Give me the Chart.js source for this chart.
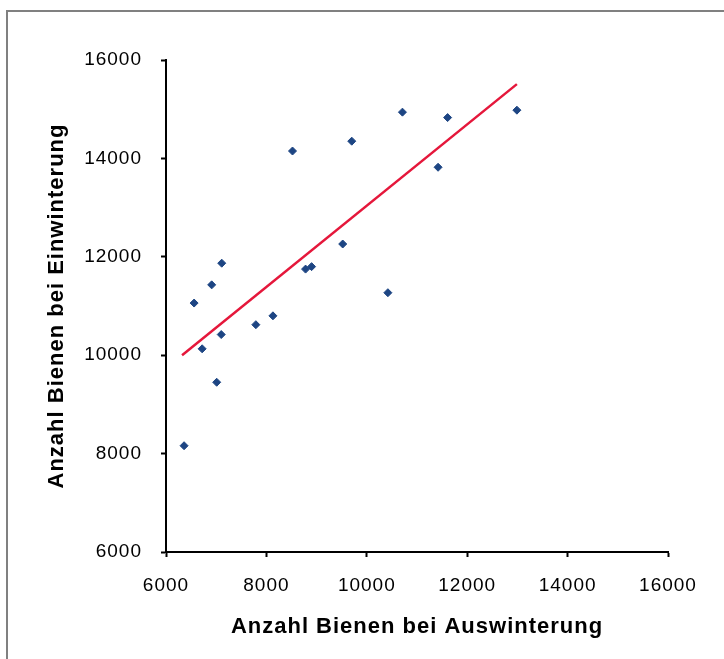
<!DOCTYPE html>
<html lang="de">
<head>
<meta charset="UTF-8">
<title>Bienen Auswinterung / Einwinterung</title>
<script src="https://cdn.jsdelivr.net/npm/chart.js"></script>
<style>
  html, body { margin: 0; padding: 0; background: #fff; }
  #rahmen {
    position: absolute; left: 6px; top: 10px; width: 740px; height: 680px;
    border-top: 2px solid #808080; border-left: 2px solid #808080;
  }
  #wrap { position: absolute; left: 0; top: 0; width: 724px; height: 659px; }
</style>
</head>
<body>
<div id="rahmen"></div>
<div id="wrap"><canvas id="streuChart"></canvas></div>

<script>
  // Völker: Anzahl Bienen bei Auswinterung (x) und Einwinterung (y)
  const auswinterung = [6360, 6560, 6720, 6910, 7010, 7110, 7100, 7790, 8130, 8520,
                        8780, 8900, 9520, 9700, 10420, 10710, 11420, 11610, 12990];
  const einwinterung = [8160, 11060, 10130, 11430, 9450, 11870, 10420, 10620, 10800, 14150,
                        11750, 11800, 12260, 14350, 11270, 14940, 13820, 14830, 14980];

  // lineare Trendlinie (Anfang / Ende)
  const trendX = [6320, 12990];
  const trendY = [10000, 15510];

  const achsenTicks = [6000, 8000, 10000, 12000, 14000, 16000];

  const punkte = auswinterung.map((x, i) => ({ x: x, y: einwinterung[i] }));
  const trend = trendX.map((x, i) => ({ x: x, y: trendY[i] }));

  const schrift = 'Arial, "Liberation Sans", sans-serif';

  // etwas breiter laufende Schrift
  const sperrung = {
    id: 'sperrung',
    beforeUpdate: (chart) => { chart.ctx.letterSpacing = '1px'; },
    beforeLayout: (chart) => { chart.ctx.letterSpacing = '1px'; },
    beforeDraw: (chart) => { chart.ctx.letterSpacing = '1px'; }
  };

  function achse(titel, breite, hoehe, tickPad) {
    return {
      type: 'linear',
      min: achsenTicks[0],
      max: achsenTicks[achsenTicks.length - 1],
      afterBuildTicks: (scale) => { scale.ticks = achsenTicks.map(v => ({ value: v })); },
      grid: {
        display: true,
        drawOnChartArea: false,
        drawTicks: true,
        tickLength: 5,
        tickWidth: 2,
        tickColor: '#000'
      },
      border: { display: true, color: '#000', width: 2 },
      ticks: {
        color: '#000',
        padding: tickPad,
        font: { family: schrift, size: 19 },
        callback: (v) => String(v)
      },
      title: {
        display: true,
        text: titel,
        color: '#000',
        padding: { top: 0, bottom: 0 },
        font: { family: schrift, size: 22, weight: 'bold' }
      },
      afterFit: (scale) => {
        if (breite) scale.width = breite;
        if (hoehe) scale.height = hoehe;
      }
    };
  }

  Chart.defaults.font.family = schrift;

  new Chart(document.getElementById('streuChart'), {
    type: 'scatter',
    data: {
      datasets: [
        {
          label: 'Trend',
          type: 'line',
          data: trend,
          borderColor: '#e5173b',
          borderWidth: 2.5,
          pointRadius: 0,
          fill: false,
          order: 2
        },
        {
          label: 'Völker',
          data: punkte,
          pointStyle: 'rectRot',
          pointRadius: 4,
          backgroundColor: '#1d4583',
          borderColor: '#1d4583',
          borderWidth: 1,
          order: 1
        }
      ]
    },
    options: {
      responsive: true,
      maintainAspectRatio: false,
      animation: false,
      layout: { padding: { left: 44, top: 60, right: 56, bottom: 19 } },
      plugins: {
        legend: { display: false },
        tooltip: { enabled: false }
      },
      scales: {
        x: achse('Anzahl Bienen bei Auswinterung', 0, 659 - 552 - 19, 17),
        y: achse('Anzahl Bienen bei Einwinterung', 166 - 44, 0, 19)
      }
    },
    plugins: [sperrung]
  });
</script>
</body>
</html>
